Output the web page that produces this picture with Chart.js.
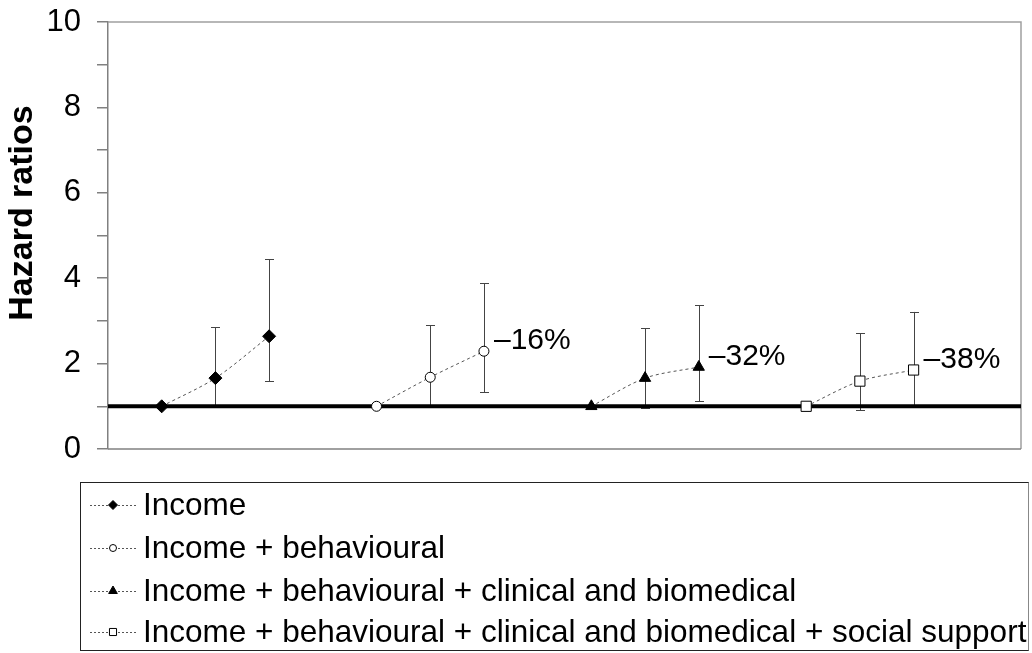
<!DOCTYPE html>
<html>
<head>
<meta charset="utf-8">
<script src="https://cdn.jsdelivr.net/npm/chart.js@4.4.1/dist/chart.umd.min.js"></script>
<style>
html, body { margin: 0; padding: 0; background: #fff; }
</style>
</head>
<body>
<canvas id="myChart" width="1032" height="653"></canvas>
<script>
var FONT = "'Liberation Sans', Arial, sans-serif";

// series names (legend)
var seriesNames = [
    "Income",
    "Income + behavioural",
    "Income + behavioural + clinical and biomedical",
    "Income + behavioural + clinical and biomedical + social support"
];
var yTitle = "Hazard ratios";

// x positions of the three income groups in each block
var xPositions = [
    [1, 2, 3],
    [5, 6, 7],
    [9, 10, 11],
    [13, 14, 15]
];

// hazard ratios
var hrIncome = [1.00, 1.66, 2.64];
var hrBehav = [1.00, 1.68, 2.29];
var hrClinical = [1.00, 1.66, 1.92];
var hrSocial = [1.00, 1.59, 1.85];

// 95% CI
var lowIncome = [null, 0.98, 1.59];
var highIncome = [null, 2.85, 4.44];
var lowBehav = [null, 1.00, 1.33];
var highBehav = [null, 2.90, 3.88];
var lowClinical = [null, 0.96, 1.12];
var highClinical = [null, 2.83, 3.37];
var lowSocial = [null, 0.91, 1.00];
var highSocial = [null, 2.71, 3.21];

var reductionLabels = ["", "\u201316%", "\u201332%", "\u201338%"];
var yTicks = [0, 2, 4, 6, 8, 10];
var refValue = 1;

var hrAll = [hrIncome, hrBehav, hrClinical, hrSocial];
var lowAll = [lowIncome, lowBehav, lowClinical, lowSocial];
var highAll = [highIncome, highBehav, highClinical, highSocial];

var markers = [
    { style: 'rectRot', radius: 6.5, fill: '#000', legendRadius: 4.5 },
    { style: 'circle', radius: 5, fill: '#fff', legendRadius: 3.5 },
    { style: 'triangle', radius: 6.5, fill: '#000', legendRadius: 5 },
    { style: 'rect', radius: 7.2, fill: '#fff', legendRadius: 5 }
];

function toPoints(xs, ys) {
    return xs.map(function(x, i) { return { x: x, y: ys[i] }; });
}

var datasets = [];
for (var s = 0; s < 4; s++) {
    datasets.push({
        label: seriesNames[s],
        data: toPoints(xPositions[s], hrAll[s]),
        borderColor: '#555',
        borderWidth: 1,
        borderDash: [3, 3],
        tension: 0.3,
        pointStyle: markers[s].style,
        pointRadius: markers[s].radius,
        pointHoverRadius: markers[s].radius,
        pointBackgroundColor: markers[s].fill,
        pointBorderColor: '#000',
        pointBorderWidth: 1,
        order: 0
    });
}
// reference line at HR = 1
datasets.push({
    label: 'ref',
    data: [{ x: 0, y: refValue }, { x: 17, y: refValue }],
    borderColor: '#000',
    borderWidth: 4,
    pointRadius: 0,
    order: 10
});

var extras = {
    id: 'extras',
    beforeDatasetsDraw: function(chart) {
        var ctx = chart.ctx;
        var a = chart.chartArea;
        var xs = chart.scales.x, ys = chart.scales.y;
        ctx.save();
        // plot frame
        ctx.lineWidth = 1.5;
        ctx.strokeStyle = '#a0a0a0';
        ctx.beginPath();
        ctx.moveTo(a.left, a.top);
        ctx.lineTo(a.right, a.top);
        ctx.lineTo(a.right, a.bottom);
        ctx.stroke();
        ctx.strokeStyle = '#808080';
        ctx.beginPath();
        ctx.moveTo(a.left, a.bottom);
        ctx.lineTo(a.right, a.bottom);
        ctx.stroke();
        // error bars
        ctx.strokeStyle = '#444';
        ctx.lineWidth = 1;
        for (var s = 0; s < 4; s++) {
            for (var i = 0; i < 3; i++) {
                if (lowAll[s][i] == null) continue;
                var px = Math.round(xs.getPixelForValue(xPositions[s][i])) + 0.5;
                var y1 = ys.getPixelForValue(lowAll[s][i]);
                var y2 = ys.getPixelForValue(highAll[s][i]);
                ctx.beginPath();
                ctx.moveTo(px, y1); ctx.lineTo(px, y2);
                ctx.moveTo(px - 4.5, Math.round(y1) + 0.5); ctx.lineTo(px + 4.5, Math.round(y1) + 0.5);
                ctx.moveTo(px - 4.5, Math.round(y2) + 0.5); ctx.lineTo(px + 4.5, Math.round(y2) + 0.5);
                ctx.stroke();
            }
        }
        // y axis title
        ctx.translate(23, 213);
        ctx.rotate(-Math.PI / 2);
        ctx.fillStyle = '#000';
        ctx.font = 'bold 34px ' + FONT;
        ctx.textAlign = 'center';
        ctx.textBaseline = 'middle';
        ctx.fillText(yTitle, 0, 0);
        ctx.restore();
    },
    afterDatasetsDraw: function(chart) {
        var ctx = chart.ctx;
        var xs = chart.scales.x, ys = chart.scales.y;
        ctx.save();
        // percent reductions next to the top group
        ctx.fillStyle = '#000';
        ctx.font = '30px ' + FONT;
        ctx.textAlign = 'left';
        ctx.textBaseline = 'middle';
        for (var s = 0; s < 4; s++) {
            if (!reductionLabels[s]) continue;
            var px = xs.getPixelForValue(xPositions[s][2]);
            var py = ys.getPixelForValue(hrAll[s][2]);
            ctx.fillText(reductionLabels[s], px + 10, py - 10);
        }
        // legend box
        var lx = 80.5, ly = 482.5, lw = 948, lh = 168;
        ctx.lineWidth = 1;
        ctx.strokeStyle = '#222';
        ctx.strokeRect(lx, ly, lw, lh);
        ctx.strokeStyle = '#888';
        ctx.beginPath();
        ctx.moveTo(lx + lw, ly); ctx.lineTo(lx + lw, ly + lh);
        ctx.stroke();
        var rowY = [505, 548, 591, 632];
        for (var r = 0; r < 4; r++) {
            var y = rowY[r];
            ctx.strokeStyle = '#555';
            ctx.lineWidth = 1;
            ctx.setLineDash([2, 2]);
            ctx.beginPath();
            ctx.moveTo(90, y + 0.5); ctx.lineTo(136, y + 0.5);
            ctx.stroke();
            ctx.setLineDash([]);
            ctx.fillStyle = markers[r].fill;
            ctx.strokeStyle = '#000';
            Chart.helpers.drawPoint(ctx, {
                pointStyle: markers[r].style,
                radius: markers[r].legendRadius,
                rotation: 0,
                borderWidth: 1
            }, 113, y);
            ctx.fillStyle = '#000';
            ctx.font = '31.5px ' + FONT;
            ctx.textBaseline = 'middle';
            ctx.fillText(seriesNames[r], 143, y + 1);
        }
        ctx.restore();
    }
};

var ctx = document.getElementById("myChart").getContext('2d');

var myChart = new Chart(ctx, {
    type: 'line',
    data: { datasets: datasets },
    options: {
        responsive: false,
        animation: false,
        layout: { padding: { top: 22, right: 11, bottom: 204, left: 0 } },
        plugins: {
            legend: { display: false },
            tooltip: { enabled: false }
        },
        scales: {
            x: {
                type: 'linear',
                min: 0,
                max: 17,
                display: false
            },
            y: {
                min: 0,
                max: 10,
                afterFit: function(scale) {
                    scale.width = 108;
                    scale.paddingTop = 0;
                    scale.paddingBottom = 0;
                },
                ticks: {
                    stepSize: 1,
                    autoSkip: false,
                    color: '#000',
                    padding: 16,
                    font: { family: FONT, size: 31 },
                    callback: function(v) { return yTicks.indexOf(v) >= 0 ? v : ''; }
                },
                grid: {
                    drawOnChartArea: false,
                    drawTicks: true,
                    tickLength: 11,
                    color: '#808080',
                    lineWidth: 1.5
                },
                border: { color: '#808080', width: 1.5 },
                title: { display: false }
            }
        }
    },
    plugins: [extras]
});
</script>
</body>
</html>
